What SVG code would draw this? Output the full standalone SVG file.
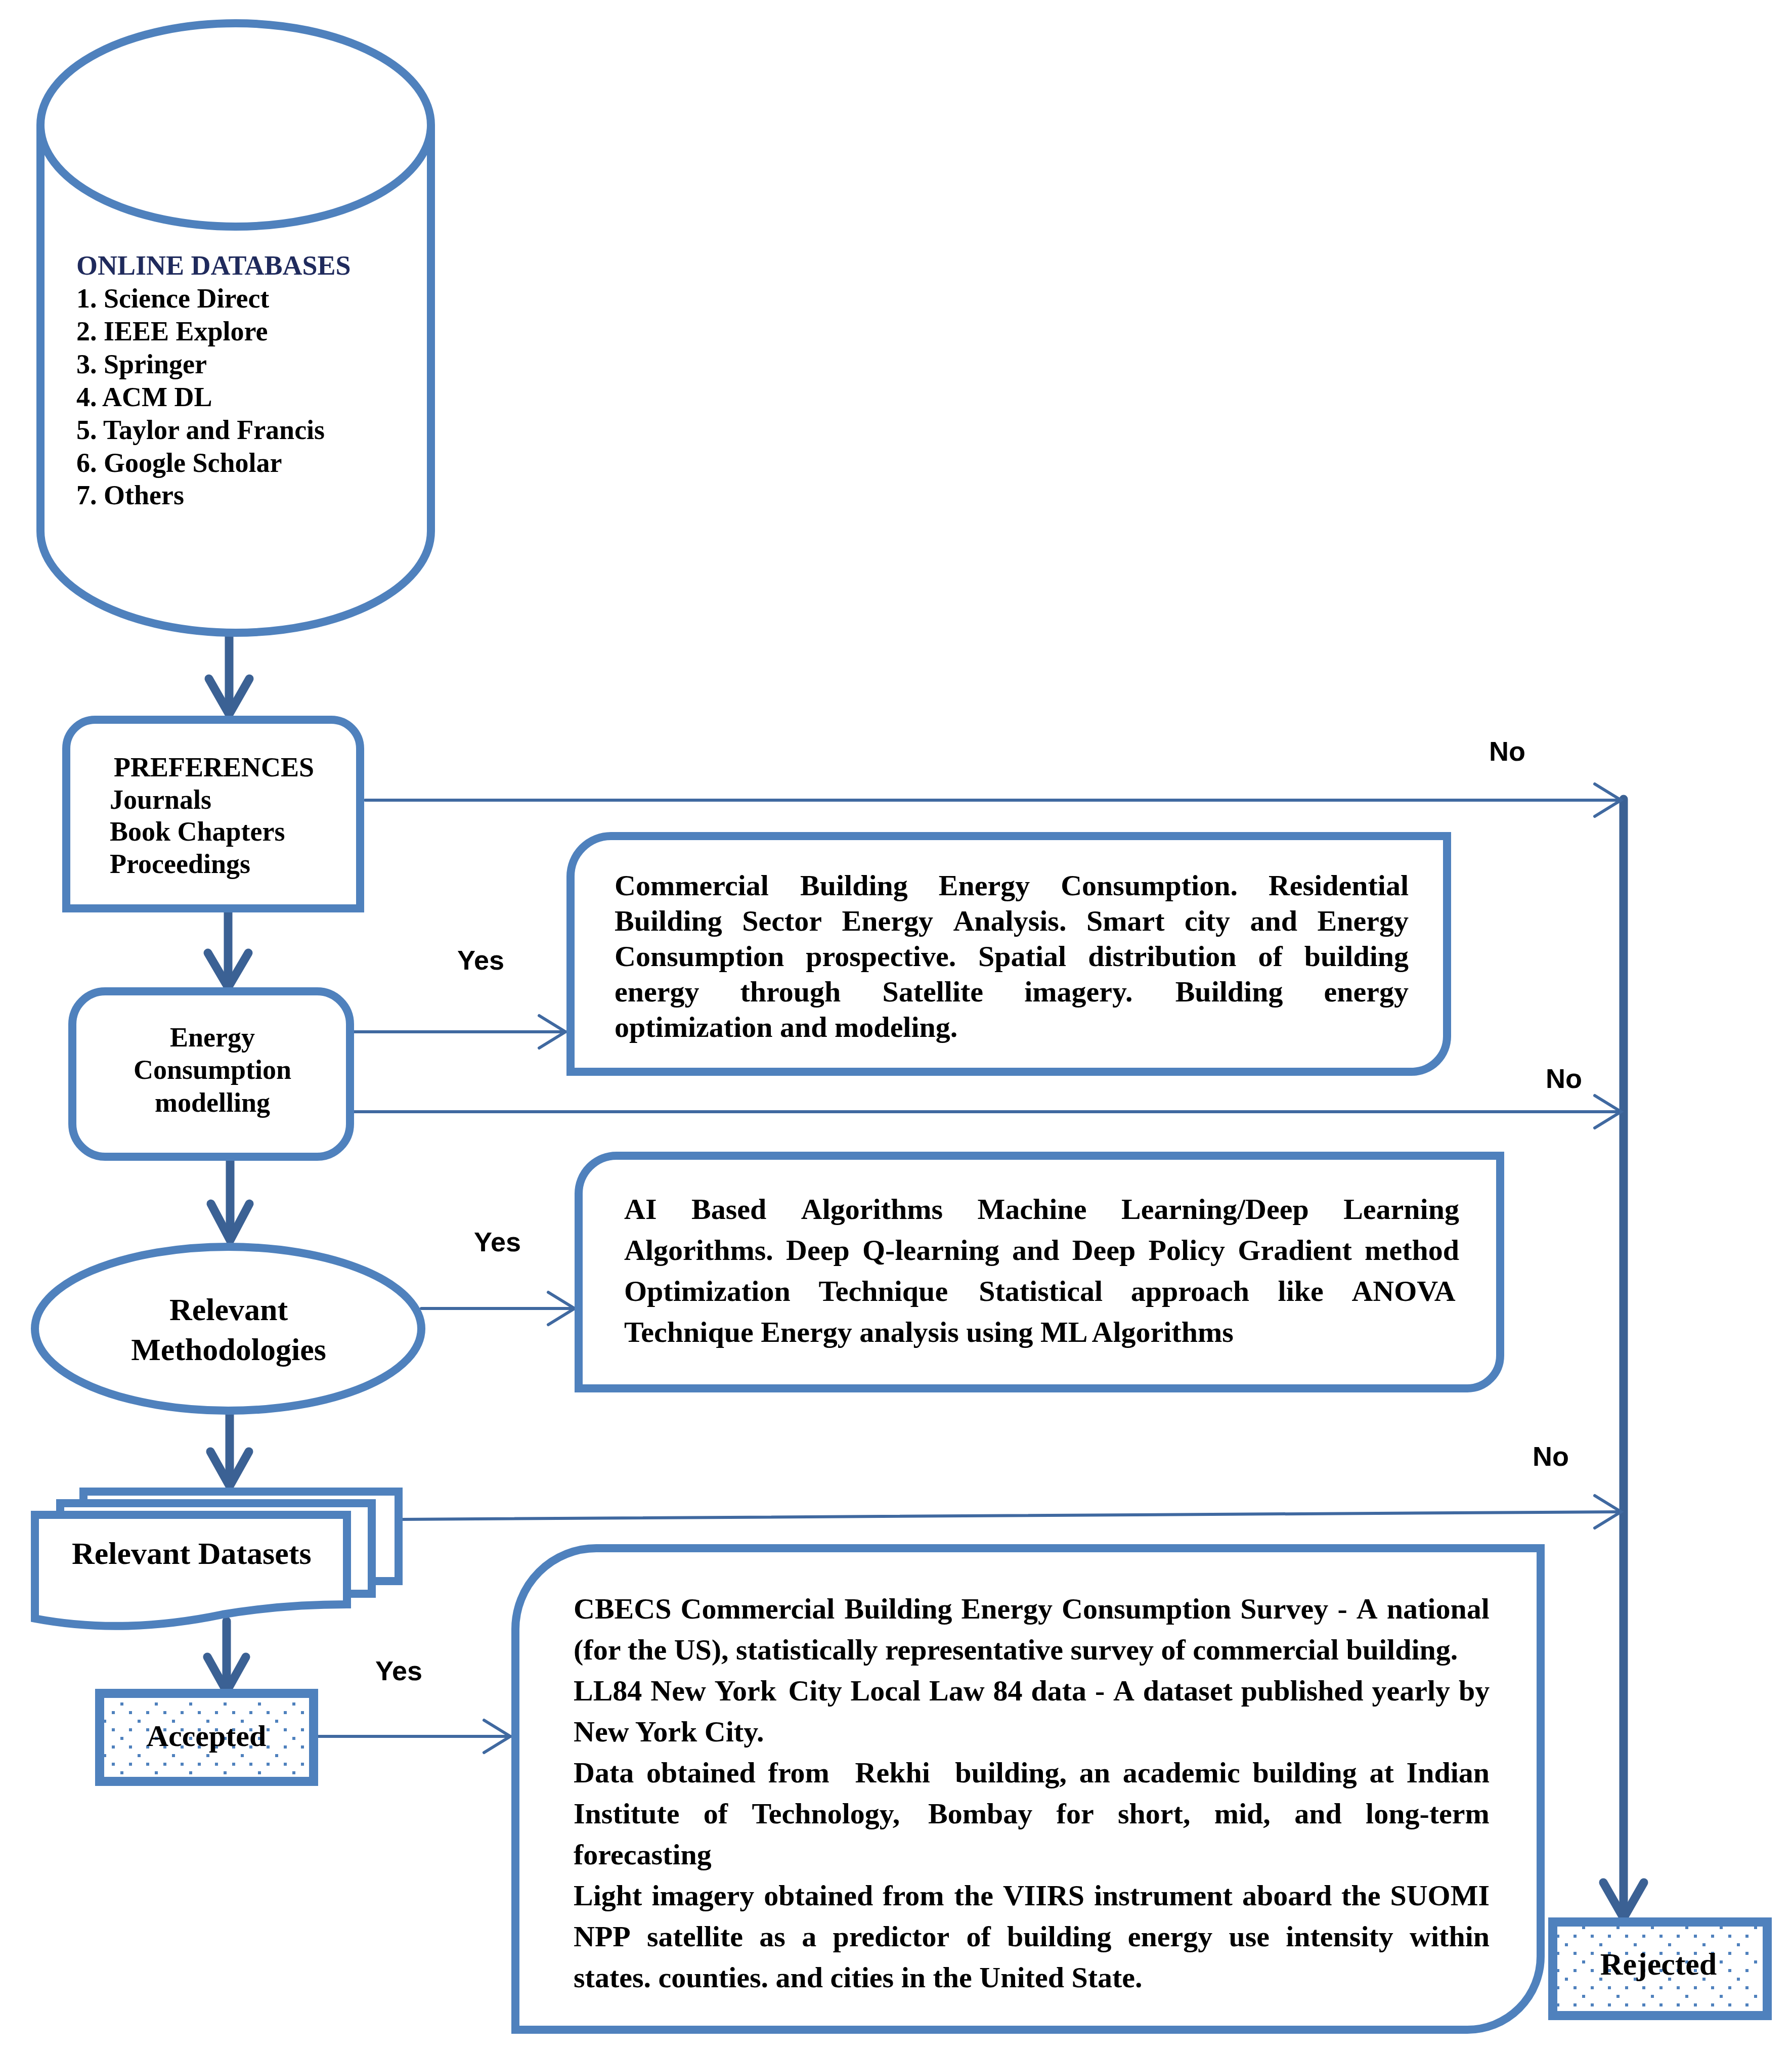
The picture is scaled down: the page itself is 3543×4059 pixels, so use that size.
<svg xmlns="http://www.w3.org/2000/svg" width="3543" height="4059" viewBox="0 0 3543 4059">
<defs>
<style>
.box{fill:#fff;stroke:#4F81BD;stroke-width:16;stroke-linejoin:miter}
.t{font-family:"Liberation Serif","Times New Roman",serif;font-weight:bold;fill:#000}
.s54{font-size:54px}
.s58{font-size:58px}
.s62{font-size:62px}
.lbl{font-family:"Liberation Sans",Arial,sans-serif;font-weight:bold;font-size:54px;fill:#000}
.thick{fill:none;stroke:#3B6194;stroke-width:17;stroke-linecap:round;stroke-linejoin:miter}
.thin{fill:none;stroke:#4069A0;stroke-width:6;stroke-linecap:round;stroke-linejoin:miter}
</style>
<pattern id="dots" patternUnits="userSpaceOnUse" width="68" height="68" x="0" y="0">
<rect x="0" y="0" width="6" height="6" fill="#4F81BD"/>
<rect x="17" y="17" width="6" height="6" fill="#4F81BD"/>
<rect x="51" y="17" width="6" height="6" fill="#4F81BD"/>
<rect x="34" y="34" width="6" height="6" fill="#4F81BD"/>
<rect x="17" y="51" width="6" height="6" fill="#4F81BD"/>
<rect x="51" y="51" width="6" height="6" fill="#4F81BD"/>
</pattern>
</defs>
<rect width="3543" height="4059" fill="#fff"/>

<g id="connectors">
<!-- vertical flow arrows -->
<path class="thick" d="M453,1258 V1410"/><path class="thick" d="M413,1342 L453,1412 L493,1342"/>
<path class="thick" d="M451,1796 V1950"/><path class="thick" d="M411,1884 L451,1952 L491,1884"/>
<path class="thick" d="M455,2287 V2450"/><path class="thick" d="M417,2380 L455,2452 L493,2380"/>
<path class="thick" d="M454,2790 V2936"/><path class="thick" d="M416,2870 L454,2938 L492,2870"/>
<path class="thick" d="M448,3205 V3342"/><path class="thick" d="M410,3276 L448,3344 L486,3276"/>
<!-- rejection trunk -->
<path class="thick" d="M3210,1580 V3790"/><path class="thick" d="M3170,3722 L3210,3792 L3250,3722"/>
<!-- No connectors -->
<path class="thin" d="M722,1582 H3205"/><path class="thin" d="M3153,1550 L3205,1582 L3153,1614"/>
<path class="thin" d="M692,2198 H3205"/><path class="thin" d="M3153,2166 L3205,2198 L3153,2230"/>
<path class="thin" d="M790,3004 L3205,2989"/><path class="thin" d="M3153,2957 L3205,2989 L3153,3021"/>
<!-- Yes connectors -->
<path class="thin" d="M692,2040 H1118"/><path class="thin" d="M1066,2008 L1118,2040 L1066,2072"/>
<path class="thin" d="M833,2587 H1136"/><path class="thin" d="M1084,2555 L1136,2587 L1084,2619"/>
<path class="thin" d="M620,3433 H1009"/><path class="thin" d="M957,3401 L1009,3433 L957,3465"/>
<text class="lbl" x="2944" y="1504">No</text>
<text class="lbl" x="904" y="1917">Yes</text>
<text class="lbl" x="3056" y="2151">No</text>
<text class="lbl" x="937" y="2474">Yes</text>
<text class="lbl" x="3030" y="2898">No</text>
<text class="lbl" x="742" y="3322">Yes</text>
</g>

<g id="online-databases">
<path class="box" d="M80,247 V1050 A386,201 0 0 0 852,1050 V247"/>
<ellipse class="box" cx="466" cy="247" rx="386" ry="201"/>
<text class="t s54" x="151" y="543" fill="#1F2A5C" style="fill:#1F2A5C">ONLINE DATABASES</text>
<text class="t s54" x="151" y="608">1. Science Direct</text>
<text class="t s54" x="151" y="673">2. IEEE Explore</text>
<text class="t s54" x="151" y="738">3. Springer</text>
<text class="t s54" x="151" y="803">4. ACM  DL</text>
<text class="t s54" x="151" y="868">5. Taylor and Francis</text>
<text class="t s54" x="151" y="933">6. Google Scholar</text>
<text class="t s54" x="151" y="997">7. Others</text>
</g>

<g id="preferences">
<path class="box" d="M131,1796 V1480 A57,57 0 0 1 188,1423 H655 A57,57 0 0 1 712,1480 V1796 Z"/>
<text class="t s54" x="225" y="1535">PREFERENCES</text>
<text class="t s54" x="217" y="1599">Journals</text>
<text class="t s54" x="217" y="1662">Book Chapters</text>
<text class="t s54" x="217" y="1726">Proceedings</text>
</g>

<g id="energy-modelling">
<rect class="box" x="143" y="1960" width="549" height="327" rx="65" ry="65"/>
<text class="t s54" x="420" y="2069" text-anchor="middle">Energy</text>
<text class="t s54" x="420" y="2133" text-anchor="middle">Consumption</text>
<text class="t s54" x="420" y="2198" text-anchor="middle">modelling</text>
</g>

<g id="relevant-methodologies">
<ellipse class="box" cx="451" cy="2627" rx="382" ry="162"/>
<text class="t s62" x="452" y="2610" text-anchor="middle">Relevant</text>
<text class="t s62" x="452" y="2689" text-anchor="middle">Methodologies</text>
</g>

<g id="relevant-datasets">
<rect class="box" x="165" y="2949" width="623" height="177"/>
<rect class="box" x="119" y="2972" width="616" height="179"/>
<path class="box" d="M69,2995 H686 V3172 C620,3172 540,3175 440,3192 C330,3215 200,3225 69,3200 Z"/>
<text class="t s62" x="142" y="3092">Relevant Datasets</text>
</g>

<g id="accepted">
<rect x="197" y="3348" width="423" height="174" fill="#fff"/>
<rect x="197" y="3348" width="423" height="174" fill="url(#dots)" stroke="#4F81BD" stroke-width="18"/>
<text class="t" style="font-size:60px" x="408" y="3452" text-anchor="middle">Accepted</text>
</g>

<g id="rejected">
<rect x="3070" y="3800" width="424" height="185" fill="#fff"/>
<rect x="3070" y="3800" width="424" height="185" fill="url(#dots)" stroke="#4F81BD" stroke-width="18"/>
<text class="t s62" x="3279" y="3904" text-anchor="middle">Rejected</text>
</g>

<g id="energy-topics">
<path class="box" d="M1128,1733 A80,80 0 0 1 1208,1653 H2861 V2049 A70,70 0 0 1 2791,2119 H1128 Z"/>
<text class="t s58" y="1770"><tspan x="1215">Commercial</tspan><tspan x="1582">Building</tspan><tspan x="1855.8">Energy</tspan><tspan x="2097.2">Consumption.</tspan><tspan x="2507.9">Residential</tspan></text>
<text class="t s58" y="1840"><tspan x="1215">Building</tspan><tspan x="1467.3">Sector</tspan><tspan x="1664.5">Energy</tspan><tspan x="1884.4">Analysis.</tspan><tspan x="2147.9">Smart</tspan><tspan x="2341.9">city</tspan><tspan x="2471.6">and</tspan><tspan x="2604.6">Energy</tspan></text>
<text class="t s58" y="1910"><tspan x="1215">Consumption</tspan><tspan x="1593.2">prospective.</tspan><tspan x="1934.1">Spatial</tspan><tspan x="2151.2">distribution</tspan><tspan x="2487.5">of</tspan><tspan x="2578.7">building</tspan></text>
<text class="t s58" y="1980"><tspan x="1215">energy</tspan><tspan x="1463.5">through</tspan><tspan x="1744.4">Satellite</tspan><tspan x="2025.2">imagery.</tspan><tspan x="2323.7">Building</tspan><tspan x="2617.5">energy</tspan></text>
<text class="t s58" x="1215" y="2050">optimization and modeling.</text>
</g>

<g id="methodology-topics">
<path class="box" d="M1144,2360 A75,75 0 0 1 1219,2285 H2966 V2680 A65,65 0 0 1 2901,2745 H1144 Z"/>
<text class="t s58" y="2410"><tspan x="1234">AI</tspan><tspan x="1367">Based</tspan><tspan x="1583.8">Algorithms</tspan><tspan x="1932.6">Machine</tspan><tspan x="2217.1">Learning/Deep</tspan><tspan x="2656.2">Learning</tspan></text>
<text class="t s58" y="2491"><tspan x="1234">Algorithms.</tspan><tspan x="1554.1">Deep</tspan><tspan x="1705">Q-learning</tspan><tspan x="2001">and</tspan><tspan x="2119.7">Deep</tspan><tspan x="2270.6">Policy</tspan><tspan x="2447.3">Gradient</tspan><tspan x="2698.1">method</tspan></text>
<text class="t s58" y="2572"><tspan x="1234">Optimization</tspan><tspan x="1618.4">Technique</tspan><tspan x="1935.2">Statistical</tspan><tspan x="2235.7">approach</tspan><tspan x="2526.6">like</tspan><tspan x="2672.4">ANOVA</tspan></text>
<text class="t s58" x="1234" y="2653">Technique Energy analysis using ML Algorithms</text>
</g>

<g id="dataset-topics">
<path class="box" d="M1019,3221 A160,160 0 0 1 1179,3061 H3046 V3868 A145,145 0 0 1 2901,4013 H1019 Z"/>
<text class="t s58" y="3200"><tspan x="1134">CBECS</tspan><tspan x="1345.5">Commercial</tspan><tspan x="1669.6">Building</tspan><tspan x="1900.5">Energy</tspan><tspan x="2099">Consumption</tspan><tspan x="2452.3">Survey</tspan><tspan x="2644.4">-</tspan><tspan x="2681.8">A</tspan><tspan x="2741.8">national</tspan></text>
<text class="t s58" x="1134" y="3281">(for the US), statistically representative survey of commercial building.</text>
<text class="t s58" y="3362"><tspan x="1134">LL84</tspan><tspan x="1286.3">New</tspan><tspan x="1412.6">York</tspan><tspan x="1558.4">City</tspan><tspan x="1681.6">Local</tspan><tspan x="1837">Law</tspan><tspan x="1963.5">84</tspan><tspan x="2038.4">data</tspan><tspan x="2164.9">-</tspan><tspan x="2201">A</tspan><tspan x="2259.8">dataset</tspan><tspan x="2453.8">published</tspan><tspan x="2712.5">yearly</tspan><tspan x="2883.9">by</tspan></text>
<text class="t s58" x="1134" y="3443">New York City.</text>
<text class="t s58" y="3524"><tspan x="1134">Data</tspan><tspan x="1277.9">obtained</tspan><tspan x="1518.6">from</tspan><tspan x="1690.5">Rekhi</tspan><tspan x="1888.2">building,</tspan><tspan x="2133.8">an</tspan><tspan x="2219.8">academic</tspan><tspan x="2476.4">building</tspan><tspan x="2707.5">at</tspan><tspan x="2780.6">Indian</tspan></text>
<text class="t s58" y="3605"><tspan x="1134">Institute</tspan><tspan x="1390.7">of</tspan><tspan x="1486.4">Technology,</tspan><tspan x="1835">Bombay</tspan><tspan x="2088.6">for</tspan><tspan x="2210">short,</tspan><tspan x="2400.7">mid,</tspan><tspan x="2559.3">and</tspan><tspan x="2700.1">long-term</tspan></text>
<text class="t s58" x="1134" y="3686">forecasting</text>
<text class="t s58" y="3767"><tspan x="1134">Light</tspan><tspan x="1288.4">imagery</tspan><tspan x="1510.3">obtained</tspan><tspan x="1745.2">from</tspan><tspan x="1886.6">the</tspan><tspan x="1982.9">VIIRS</tspan><tspan x="2163">instrument</tspan><tspan x="2455.9">aboard</tspan><tspan x="2652.1">the</tspan><tspan x="2748.4">SUOMI</tspan></text>
<text class="t s58" y="3848"><tspan x="1134">NPP</tspan><tspan x="1279">satellite</tspan><tspan x="1501.3">as</tspan><tspan x="1585.2">a</tspan><tspan x="1646.4">predictor</tspan><tspan x="1910.5">of</tspan><tspan x="1991.1">building</tspan><tspan x="2229.7">energy</tspan><tspan x="2429.4">use</tspan><tspan x="2542.2">intensity</tspan><tspan x="2787.1">within</tspan></text>
<text class="t s58" x="1134" y="3929">states. counties. and cities in the United State.</text>
</g>
</svg>
